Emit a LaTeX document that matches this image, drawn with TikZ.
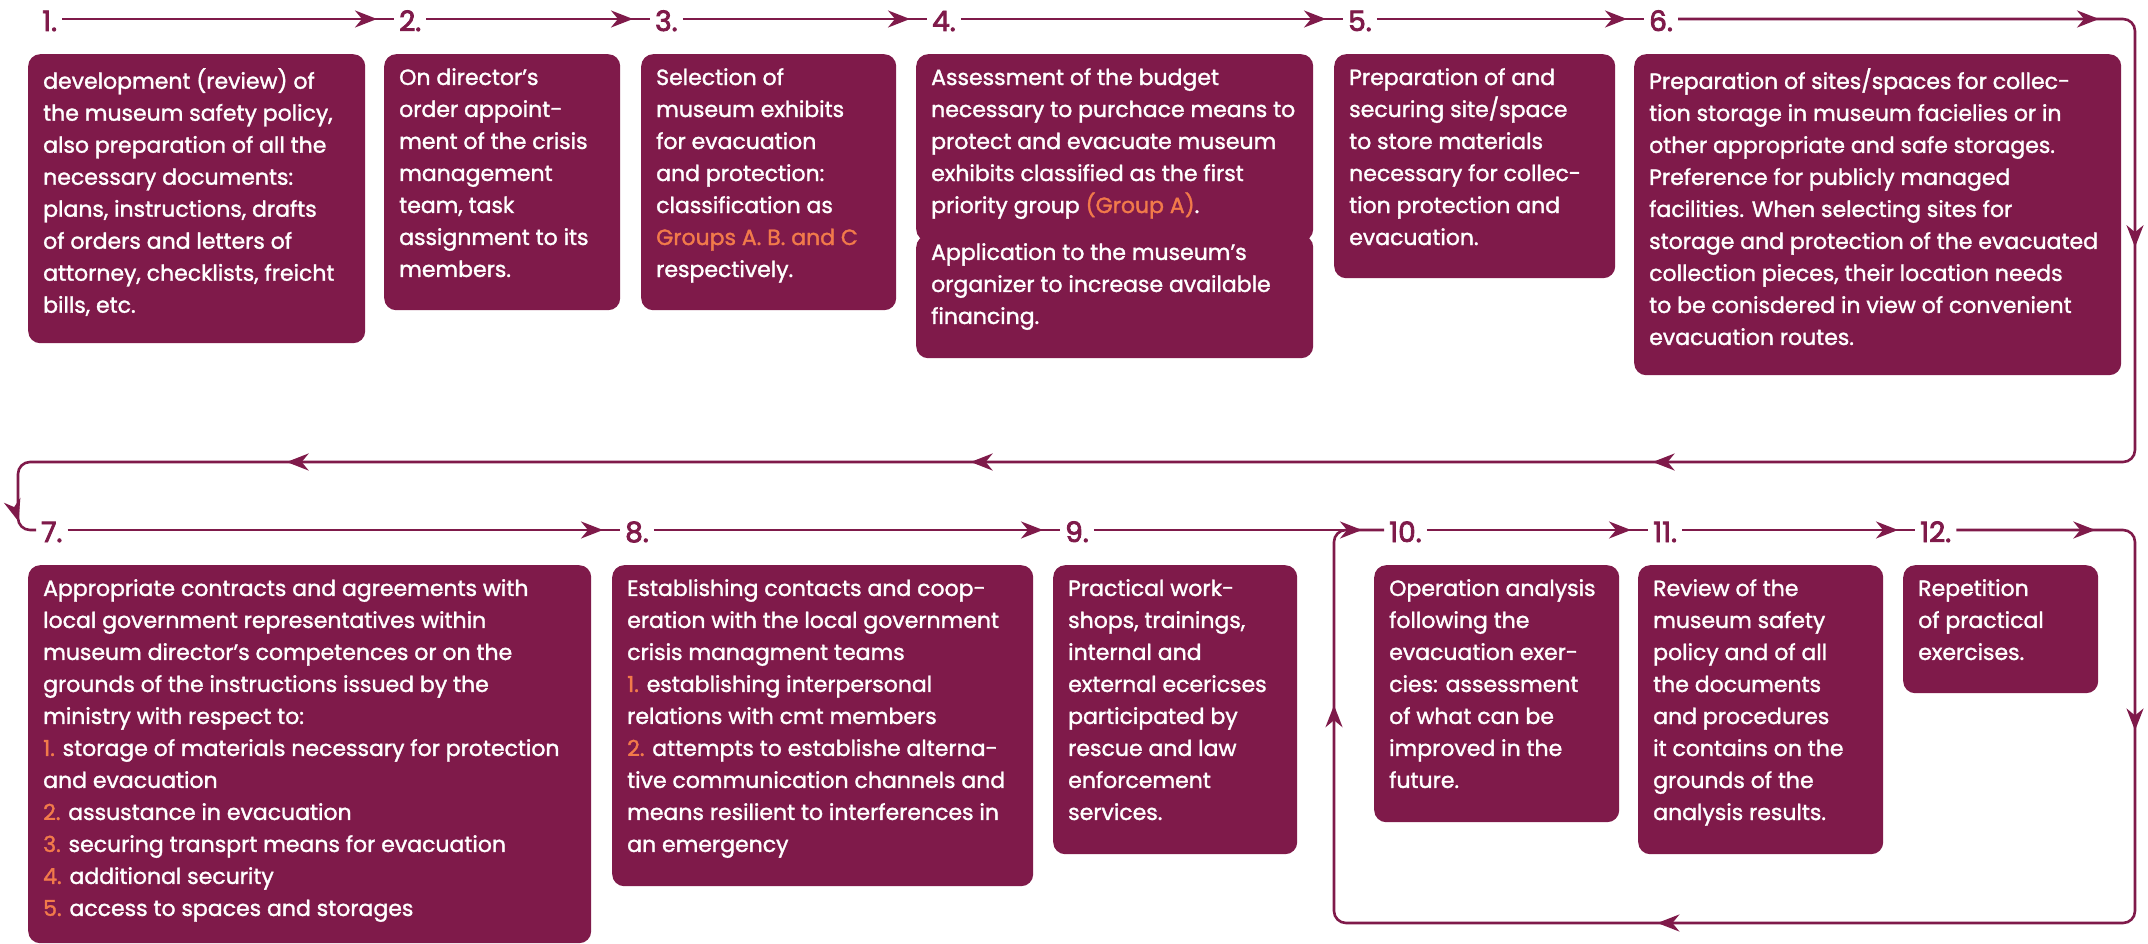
\documentclass[tikz,border=0pt]{standalone}
\usepackage{fontspec}
\setmainfont{Poppins}[FakeBold=1.5]
\newfontfamily\stepfont{Poppins}[FakeBold=3]
\usetikzlibrary{arrows.meta,decorations.markings}

\definecolor{plum}{RGB}{127,26,74}
\definecolor{accent}{RGB}{242,122,74}

\tikzset{
  x=1pt, y=-1pt,
  >={Stealth[length=22pt,width=17pt,inset=7pt]},
  card/.style={fill=plum, rounded corners=12pt, anchor=north west, inner sep=0pt},
  cardtext/.style={anchor=north west, align=left, text=white, inner sep=0pt,
    font=\fontsize{22}{32}\selectfont, execute at begin node=\strut},
  num/.style={anchor=west, text=plum, inner xsep=5pt, inner ysep=0pt,
    text height=24pt, text depth=0pt, font=\stepfont\fontsize{28}{30}\selectfont},
  flow/.style={draw=plum, line width=2.6pt},
  tip/.style={postaction={decorate, decoration={markings,
    mark=at position #1 with {\arrow{>}}}}},
  flowto/.style={flow, tip=-17pt},
}

\begin{document}
\begin{tikzpicture}
	\useasboundingbox (0,0) rectangle (2148,944);

	% step numbers
	\node[num] (n1) at (37,19) {1.};
	\node[num] (n2) at (394,19) {2.};
	\node[num] (n3) at (650,19) {3.};
	\node[num] (n4) at (927,19) {4.};
	\node[num] (n5) at (1343,19) {5.};
	\node[num] (n6) at (1644,19) {6.};
	\node[num] (n7) at (36,530) {7.};
	\node[num] (n8) at (620,530) {8.};
	\node[num] (n9) at (1060,530) {9.};
	\node[num] (n10) at (1384,530) {10.};
	\node[num] (n11) at (1648,530) {11.};
	\node[num] (n12) at (1915,530) {12.};

	% corners of the loops
	\coordinate (c1) at (2135,19);
	\coordinate (c2) at (2135,462);
	\coordinate (c3) at (18,462);
	\coordinate (c4) at (18,530);
	\coordinate (c5) at (2135,530);
	\coordinate (c6) at (2135,923);
	\coordinate (c7) at (1334,923);
	\coordinate (c8) at (1334,530);

	% cards, first row
	\node[card, minimum width=337, minimum height=289] (b1) at (28,54) {};
	\node[card, minimum width=236, minimum height=256] (b2) at (384,54) {};
	\node[card, minimum width=255, minimum height=256] (b3) at (641,54) {};
	\node[card, minimum width=397, minimum height=187] (b4) at (916,54) {};
	\node[card, minimum width=397, minimum height=123] (b4b) at (916,235) {};
	\node[card, minimum width=281, minimum height=224] (b5) at (1334,54) {};
	\node[card, minimum width=487, minimum height=321] (b6) at (1634,54) {};

	% cards, second row
	\node[card, minimum width=563, minimum height=378] (b7) at (28,565) {};
	\node[card, minimum width=421, minimum height=321] (b8) at (612,565) {};
	\node[card, minimum width=244, minimum height=289] (b9) at (1053,565) {};
	\node[card, minimum width=245, minimum height=257] (b10) at (1374,565) {};
	\node[card, minimum width=245, minimum height=289] (b11) at (1638,565) {};
	\node[card, minimum width=195, minimum height=128] (b12) at (1903,565) {};

	\node[cardtext] (t1) at ([shift={(15,14)}]b1.north west) {development (review) of\\the museum safety policy,\\also preparation of all the\\necessary documents:\\plans, instructions, drafts\\of orders and letters of\\attorney, checklists, freicht\\bills, etc.};
	\node[cardtext] (t2) at ([shift={(15,14)}]b2.north west) {On director’s\\order appoint-\\ment of the crisis\\management\\team, task\\assignment to its\\members.};
	\node[cardtext] (t3) at ([shift={(15,14)}]b3.north west) {Selection of\\museum exhibits\\for evacuation\\and protection:\\classification as\\\textcolor{accent}{Groups A. B. and C}\\respectively.};
	\node[cardtext] (t4) at ([shift={(15,14)}]b4.north west) {Assessment of the budget\\necessary to purchace means to\\protect and evacuate museum\\exhibits classified as the first\\priority group \textcolor{accent}{(Group A)}.};
	\node[cardtext] (t4b) at ([shift={(15,8)}]b4b.north west) {Application to the museum’s\\organizer to increase available\\financing.};
	\node[cardtext] (t5) at ([shift={(15,14)}]b5.north west) {Preparation of and\\securing site/space\\to store materials\\necessary for collec-\\tion protection and\\evacuation.};
	\node[cardtext] (t6) at ([shift={(15,14)}]b6.north west) {Preparation of sites/spaces for collec-\\tion storage in museum facielies or in\\other appropriate and safe storages.\\Preference for publicly managed\\facilities. When selecting sites for\\storage and protection of the evacuated\\collection pieces, their location needs\\to be conisdered in view of convenient\\evacuation routes.};
	\node[cardtext] (t7) at ([shift={(15,14)}]b7.north west) {Appropriate contracts and agreements with\\local government representatives within\\museum director’s competences or on the\\grounds of the instructions issued by the\\ministry with respect to:\\\textcolor{accent}{1.} storage of materials necessary for protection\\and evacuation\\\textcolor{accent}{2.} assustance in evacuation\\\textcolor{accent}{3.} securing transprt means for evacuation\\\textcolor{accent}{4.} additional security\\\textcolor{accent}{5.} access to spaces and storages};
	\node[cardtext] (t8) at ([shift={(15,14)}]b8.north west) {Establishing contacts and coop-\\eration with the local government\\crisis managment teams\\\textcolor{accent}{1.} establishing interpersonal\\relations with cmt members\\\textcolor{accent}{2.} attempts to establishe alterna-\\tive communication channels and\\means resilient to interferences in\\an emergency};
	\node[cardtext] (t9) at ([shift={(15,14)}]b9.north west) {Practical work-\\shops, trainings,\\internal and\\external ecericses\\participated by\\rescue and law\\enforcement\\services.};
	\node[cardtext] (t10) at ([shift={(15,14)}]b10.north west) {Operation analysis\\following the\\evacuation exer-\\cies: assessment\\of what can be\\improved in the\\future.};
	\node[cardtext] (t11) at ([shift={(15,14)}]b11.north west) {Review of the\\museum safety\\policy and of all\\the documents\\and procedures\\it contains on the\\grounds of the\\analysis results.};
	\node[cardtext] (t12) at ([shift={(15,14)}]b12.north west) {Repetition\\of practical\\exercises.};

	% first row
	\draw[flowto] (n1) -- (n2);
	\draw[flowto] (n2) -- (n3);
	\draw[flowto] (n3) -- (n4);
	\draw[flowto] (n4) -- (n5);
	\draw[flowto] (n5) -- (n6);
	\draw[flow, rounded corners=12pt, tip=421pt, tip=680pt, tip=1372pt, tip=2054pt, tip=2738pt, tip=3061pt]
		(n6) -- (c1) -- (c2) -- (c3) -- (c4) -- (n7);

	% second row
	\draw[flowto] (n7) -- (n8);
	\draw[flowto] (n8) -- (n9);
	\draw[flow, tip=-22pt] (n9) -- (n10);
	\draw[flowto] (n10) -- (n11);
	\draw[flowto] (n11) -- (n12);
	\draw[flow, rounded corners=12pt, tip=139pt, tip=374pt, tip=1039pt, tip=1575pt]
		(n12) -- (c5) -- (c6) -- (c7) -- (c8) -- (n10);
\end{tikzpicture}
\end{document}
